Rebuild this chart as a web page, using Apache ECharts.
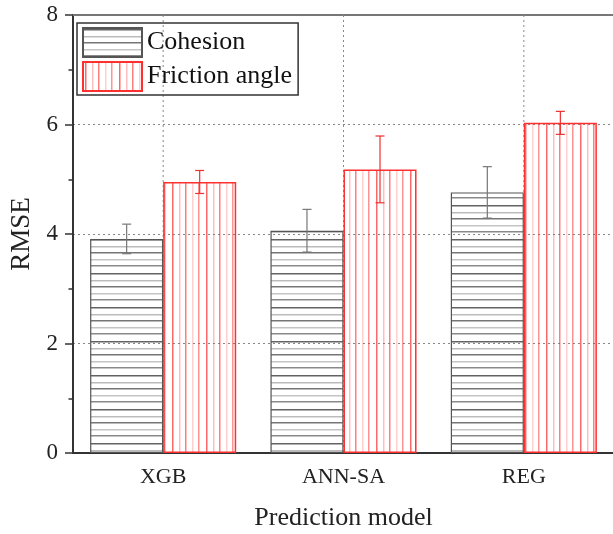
<!DOCTYPE html>
<html>
<head>
<meta charset="utf-8">
<script src="https://cdn.jsdelivr.net/npm/echarts@6/dist/echarts.min.js"></script>
<style>html,body{margin:0;padding:0;background:#fff}#c{width:613px;height:534px}</style>
</head>
<body>
<div id="c"></div>
<script>
const categories = ['XGB', 'ANN-SA', 'REG'];
const cohesion = [3.91, 4.06, 4.76];
const cohesionErr = [0.27, 0.39, 0.47];
const friction = [4.95, 5.18, 6.03];
const frictionErr = [0.21, 0.61, 0.21];
const yTicks = [0, 2, 4, 6, 8];

function hPattern() {
  const c = document.createElement('canvas');
  c.width = 8; c.height = 34;
  const g = c.getContext('2d');
  const rows = [[1, 0.8], [8, 0.35], [14, 0.7], [21, 0.3], [27, 0.6]];
  rows.forEach(([y, a]) => { g.fillStyle = 'rgba(60,60,60,' + a + ')'; g.fillRect(0, y, 8, 1.5); });
  return c;
}
function vPattern() {
  const c = document.createElement('canvas');
  c.width = 34; c.height = 8;
  const g = c.getContext('2d');
  const cols = [[2, 0.7], [9, 0.3], [15, 0.6], [22, 0.22], [28, 0.5]];
  cols.forEach(([x, a]) => { g.fillStyle = 'rgba(255,40,40,' + a + ')'; g.fillRect(x, 0, 1.5, 8); });
  return c;
}

const chart = echarts.init(document.getElementById('c'), null, {renderer: 'canvas'});
const serif = 'Liberation Serif';
const BARFRAC = 0.405;

function errItem(sign, color) {
  return function (params, api) {
    const idx = api.value(0);
    const v = api.value(1), e = api.value(2);
    const bw = api.size([1, 0])[0];
    const off = sign * bw * BARFRAC / 2;
    const top = api.coord([idx, v + e]);
    const bot = api.coord([idx, v - e]);
    const x = top[0] + off;
    const cap = 4.5;
    const style = {stroke: color, lineWidth: 1.2};
    return {type: 'group', children: [
      {type: 'line', shape: {x1: x, y1: top[1], x2: x, y2: bot[1]}, style},
      {type: 'line', shape: {x1: x - cap, y1: top[1], x2: x + cap, y2: top[1]}, style},
      {type: 'line', shape: {x1: x - cap, y1: bot[1], x2: x + cap, y2: bot[1]}, style}
    ]};
  };
}
function vGrid(params, api) {
  const idx = api.value(0);
  const a = api.coord([idx, 8]);
  const b = api.coord([idx, 0]);
  return {type: 'line', shape: {x1: a[0], y1: a[1], x2: b[0], y2: b[1]},
    style: {stroke: '#888', lineWidth: 1, lineDash: [2, 3]}};
}

chart.setOption({
  animation: false,
  grid: {left: 73, top: 15, width: 541, height: 438, outerBoundsMode: 'none', containLabel: false},
  legend: {
    left: 77, top: 23, orient: 'vertical',
    data: ['Cohesion', 'Friction angle'],
    icon: 'rect', itemWidth: 59, itemHeight: 29, itemGap: 3, itemTextGap: 9,
    padding: [4, 6, 3, 5], borderColor: '#333', borderWidth: 1.5,
    textStyle: {fontFamily: serif, fontSize: 26, color: '#111'}
  },
  xAxis: [{
    type: 'category', data: categories, position: 'bottom',
    axisLine: {lineStyle: {color: '#333', width: 2}},
    axisTick: {alignWithLabel: true, length: 8, lineStyle: {color: '#333', width: 2}},
    axisLabel: {fontFamily: serif, fontSize: 22, color: '#222', margin: 13},
    splitLine: {show: false},
    name: 'Prediction model', nameLocation: 'middle', nameGap: 52,
    nameTextStyle: {fontFamily: serif, fontSize: 26, color: '#222'}
  }, {
    type: 'category', data: categories, position: 'bottom', gridIndex: 0,
    axisLine: {show: false},
    axisTick: {alignWithLabel: false, length: 4.5, lineStyle: {color: '#333', width: 1.5}},
    axisLabel: {show: false}, splitLine: {show: false}
  }, {
    type: 'category', data: categories, position: 'top',
    axisLine: {lineStyle: {color: '#777', width: 2}},
    axisTick: {show: false}, axisLabel: {show: false}, splitLine: {show: false}
  }],
  yAxis: {
    type: 'value', min: 0, max: 8, interval: 2,
    axisLine: {show: true, lineStyle: {color: '#333', width: 2}},
    axisTick: {show: true, length: 8, lineStyle: {color: '#333', width: 1.5}},
    minorTick: {show: true, splitNumber: 2, length: 4.5, lineStyle: {color: '#333', width: 1.5}},
    axisLabel: {fontFamily: serif, fontSize: 23, color: '#222', margin: 15,
      formatter: v => yTicks.includes(v) ? String(v) : ''},
    splitLine: {show: true, lineStyle: {color: '#888', type: [2, 3], width: 1}},
    name: 'RMSE', nameLocation: 'middle', nameGap: 38,
    nameTextStyle: {fontFamily: serif, fontSize: 27, color: '#222'}
  },
  series: [{
    type: 'custom', name: 'vgrid', renderItem: vGrid, silent: true, z: 1,
    data: categories.map((c, i) => [i])
  }, {
    name: 'Cohesion', type: 'bar', data: cohesion, barWidth: '40.5%', barGap: '0%',
    itemStyle: {color: {image: hPattern(), repeat: 'repeat'}, borderColor: '#555', borderWidth: 1.2}
  }, {
    name: 'Friction angle', type: 'bar', data: friction, barWidth: '40.5%', barGap: '0%',
    itemStyle: {color: {image: vPattern(), repeat: 'repeat'}, borderColor: '#ff3030', borderWidth: 1.5}
  }, {
    type: 'custom', name: 'cErr', renderItem: errItem(-1, '#777'),
    data: cohesion.map((v, i) => [i, v, cohesionErr[i]]), z: 5
  }, {
    type: 'custom', name: 'fErr', renderItem: errItem(1, '#ee3030'),
    data: friction.map((v, i) => [i, v, frictionErr[i]]), z: 5
  }]
});
</script>
</body>
</html>
